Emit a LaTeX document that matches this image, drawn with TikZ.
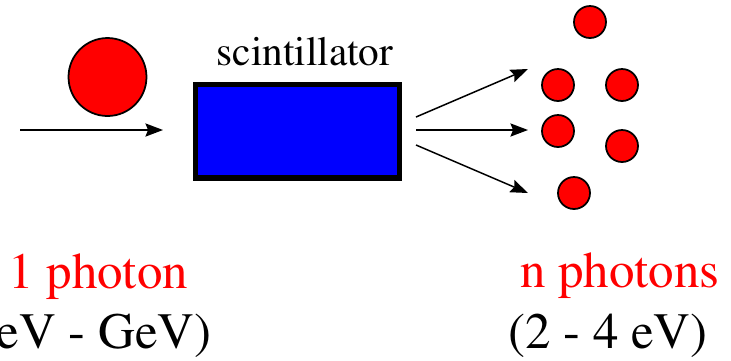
\documentclass[tikz,border=0pt]{standalone}
\usepackage[T1]{fontenc}
\usepackage{times}
\usepackage{xcolor}
\usetikzlibrary{arrows.meta, positioning}
\definecolor{photonred}{RGB}{255,0,0}
\definecolor{scintblue}{RGB}{0,0,255}

\begin{document}
\begin{tikzpicture}[
    x=0.02cm, y=-0.02cm,
    bigphoton/.style={
        circle, draw=black, fill=photonred,
        line width=1pt, minimum size=1.56cm, inner sep=0pt
    },
    photon/.style={
        circle, draw=black, fill=photonred,
        line width=1pt, minimum size=0.64cm, inner sep=0pt
    },
    crystal/.style={
        rectangle, draw=black, fill=scintblue,
        line width=2.85pt, outer sep=0pt,
        minimum width=4.1cm, minimum height=1.88cm
    },
    arr/.style={-{Stealth[length=10pt, width=7.5pt, inset=1.5pt]}, line width=0.85pt},
    redtxt/.style={font=\fontsize{29}{34}\selectfont, text=photonred, inner sep=0pt},
    blktxt/.style={font=\fontsize{29}{34}\selectfont, text=black, inner sep=0pt}
]
\useasboundingbox (0,0) rectangle (731,360);

% incoming photon
\node[bigphoton] (gin) at (107.5,77) {};
\coordinate (src) at (20,130);
\coordinate (hit) at (163,130);
\draw[arr] (src) -- (hit);

% scintillator
\node[crystal] (scint) at (297.5,131) {};
\node[above=0.36cm of scint, xshift=0.15cm, inner sep=0pt,
      font=\fontsize{23.5}{28}\selectfont] (scintlbl) {scintillator};

% outgoing light
\coordinate (outa) at (416,117);
\coordinate (outb) at (416,130);
\coordinate (outc) at (416,145);
\coordinate (enda) at (528,69);
\coordinate (endb) at (528,130);
\coordinate (endc) at (528,193);
\draw[arr] (outa) -- (enda);
\draw[arr] (outb) -- (endb);
\draw[arr] (outc) -- (endc);

\node[photon] (p1) at (590,22) {};
\node[photon] (p2) at (558,85) {};
\node[photon] (p3) at (622,85) {};
\node[photon] (p4) at (558,131) {};
\node[photon] (p5) at (622,146) {};
\node[photon] (p6) at (574,193) {};

% labels
\node[redtxt, anchor=base west] (onelbl) at (8,288) {1 photon};
\node[blktxt, anchor=base east] (oneen) at (212,348) {(keV - GeV)};
\node[redtxt, anchor=base east] (nlbl) at (720,287) {n photons};
\node[blktxt, anchor=base east] (nen) at (708,348) {(2 - 4 eV)};

\end{tikzpicture}
\end{document}
